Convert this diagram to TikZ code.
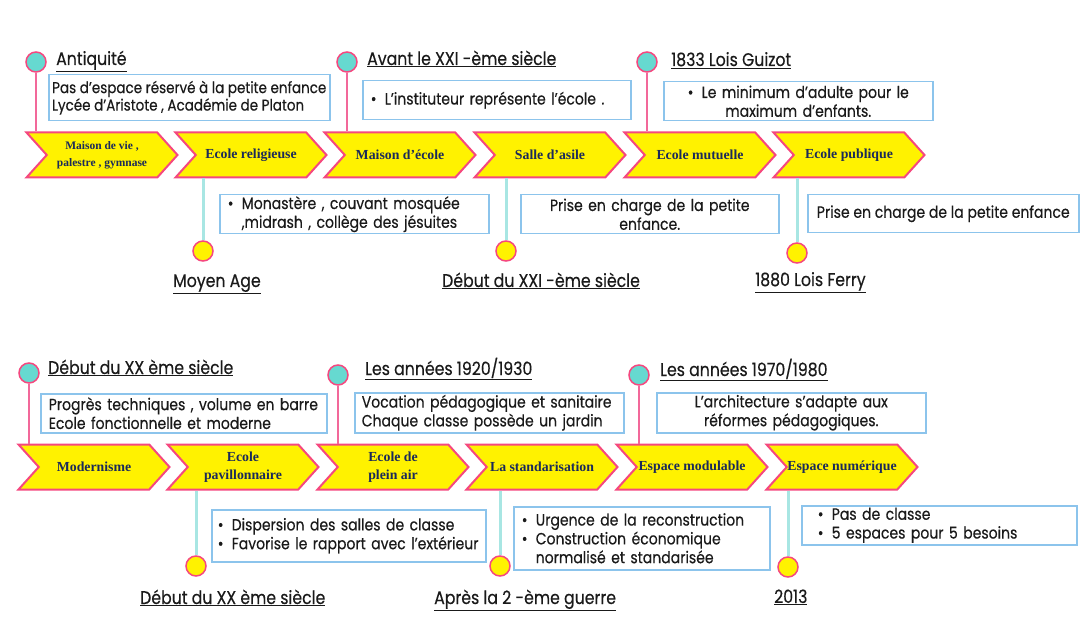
\documentclass[tikz,border=0pt]{standalone}
\usepackage{fontspec}
\setmainfont[FakeStretch=0.86,FakeBold=0.4]{Poppins}
\newfontfamily\chevfont{Liberation Serif}
\usepackage{tikz}
\usepackage{xcolor}
\usetikzlibrary{shapes.symbols}
\usetikzlibrary{positioning}

\definecolor{chevpink}{HTML}{F5487F}
\definecolor{stempink}{HTML}{F2689A}
\definecolor{dotteal}{HTML}{66D9D0}
\definecolor{stemcyan}{HTML}{A8E6E3}
\definecolor{boxblue}{HTML}{8CC4EC}
\definecolor{chevnavy}{HTML}{1B2A5A}
\definecolor{inktext}{HTML}{1A1A1A}

\tikzset{
  chev/.style={signal, signal from=west, signal to=east, signal pointer angle=96,
    draw=chevpink, line width=2pt, fill=yellow, minimum width=151pt, minimum height=45pt,
    inner sep=0pt, text=chevnavy, align=center, font=\chevfont\bfseries\fontsize{13.8}{18}\selectfont},
  chevsmall/.style={chev, font=\chevfont\bfseries\fontsize{11.5}{17}\selectfont},
  tdot/.style={circle, draw=chevpink, fill=dotteal, line width=1.5pt, minimum size=20pt, inner sep=0pt},
  ydot/.style={circle, draw=chevpink, fill=yellow, line width=1.5pt, minimum size=20pt, inner sep=0pt},
  upstem/.style={stempink, line width=2.5pt},
  downstem/.style={stemcyan, line width=3pt},
  infobox/.style={draw=boxblue, line width=1.5pt, anchor=north west, inner xsep=8pt, inner ysep=0pt,
    align=left, text=inktext, font=\fontsize{16.3}{18.8}\selectfont},
  era/.style={anchor=base west, inner sep=0pt, text=inktext, font=\fontsize{18.3}{20}\selectfont},
}
\newcommand\bul{\makebox[14pt][l]{•}}

\begin{document}
\begin{tikzpicture}[x=1pt,y=-1pt]
\useasboundingbox (0,0) rectangle (1084,636);

\node[chevsmall] (t1) at (102,155) {Maison de vie ,\\palestre , gymnase};
\node[chev] (t2) at (251,155) {Ecole religieuse};
\node[chev] (t3) at (400,155) {Maison d’école};
\node[chev] (t4) at (550,155) {Salle d’asile};
\node[chev] (t5) at (700,155) {Ecole mutuelle};
\node[chev] (t6) at (849,155) {Ecole publique};

\node[tdot] (td1) at (36,62) {};
\node[tdot] (td2) at (347,62) {};
\node[tdot] (td3) at (647,62) {};
\draw[upstem] (td1) -- (td1 |- t1.north);
\draw[upstem] (td2) -- (td2 |- t3.north);
\draw[upstem] (td3) -- (td3 |- t5.north);

\node[ydot] (yd1) at (203,251) {};
\node[ydot] (yd2) at (506,251) {};
\node[ydot] (yd3) at (797,253) {};
\draw[downstem] (yd1 |- t2.south) -- (yd1);
\draw[downstem] (yd2 |- t4.south) -- (yd2);
\draw[downstem] (yd3 |- t6.south) -- (yd3);

\node[era] (e1) at (56,65) {\underline{Antiquité}};
\node[era] (e2) at (367,65) {\underline{Avant le XXI -ème siècle}};
\node[era] (e3) at (671,66) {\underline{1833 Lois Guizot}};
\node[era] (e4) at (173,287) {\underline{Moyen Age}};
\node[era] (e5) at (442,287) {\underline{Début du XXI -ème siècle}};
\node[era] (e6) at (755,286) {\underline{1880 Lois Ferry}};

\node[infobox, minimum width=281pt, minimum height=46pt, inner xsep=0pt, font=\fontsize{15.7}{17.5}\selectfont] (tb1) at (48,74)
  {Pas d’espace réservé à la petite enfance\\Lycée d’Aristote , Académie de Platon};
\node[infobox, text width=252pt, minimum height=39pt] (tb2) at (362,80)
  {\bul L’instituteur représente l'école .};
\node[infobox, text width=253pt, minimum height=39pt, align=center] (tb3) at (663,81)
  {\bul Le minimum d’adulte pour le\\maximum d’enfants.};
\node[infobox, text width=253pt, minimum height=39pt] (lb1) at (219,194)
  {\bul Monastère , couvant mosquée\\\hspace*{14pt},midrash , collège des jésuites};
\node[infobox, text width=242pt, minimum height=39pt, align=center] (lb2) at (520,194)
  {Prise en charge de la petite\\enfance.};
\node[infobox, minimum width=271pt, minimum height=38pt, inner xsep=0pt] (lb3) at (807,194)
  {Prise en charge de la petite enfance};

\node[chev] (b1) at (94,467) {Modernisme};
\node[chev] (b2) at (243,467) {Ecole\\pavillonnaire};
\node[chev] (b3) at (393,467) {Ecole de\\plein air};
\node[chev] (b4) at (542,467) {La standarisation};
\node[chev] (b5) at (692,467) {Espace modulable};
\node[chev] (b6) at (842,467) {Espace numérique};

\node[tdot] (td4) at (29,373) {};
\node[tdot] (td5) at (338,375) {};
\node[tdot] (td6) at (639,375) {};
\draw[upstem] (td4) -- (td4 |- b1.north);
\draw[upstem] (td5) -- (td5 |- b3.north);
\draw[upstem] (td6) -- (td6 |- b5.north);

\node[ydot] (yd4) at (196,566) {};
\node[ydot] (yd5) at (500,566) {};
\node[ydot] (yd6) at (788,567) {};
\draw[downstem] (yd4 |- b2.south) -- (yd4);
\draw[downstem] (yd5 |- b4.south) -- (yd5);
\draw[downstem] (yd6 |- b6.south) -- (yd6);

\node[era] (e7) at (48,374) {\underline{Début du XX ème siècle}};
\node[era] (e8) at (365,375) {\underline{Les années 1920/1930}};
\node[era] (e9) at (660,376) {\underline{Les années 1970/1980}};
\node[era] (e10) at (140,604) {\underline{Début du XX ème siècle}};
\node[era] (e11) at (434,604) {\underline{Après la 2 -ème guerre}};
\node[era] (e12) at (774,603) {\underline{2013}};

\node[infobox, text width=270pt, minimum height=39pt] (tb4) at (40,393)
  {Progrès techniques , volume en barre\\Ecole fonctionnelle et moderne};
\node[infobox, text width=255pt, minimum height=40pt, inner xsep=7pt] (tb5) at (354,392)
  {Vocation pédagogique et sanitaire\\Chaque classe possède un jardin};
\node[infobox, text width=253pt, minimum height=40pt, align=center] (tb6) at (656,392)
  {L’architecture s’adapte aux\\réformes pédagogiques.};
\node[infobox, text width=262pt, minimum height=52pt, inner xsep=6pt] (lb4) at (211,509)
  {\bul Dispersion des salles de classe\\\bul Favorise le rapport avec l’extérieur};
\node[infobox, text width=240pt, minimum height=63pt] (lb5) at (513,506)
  {\bul Urgence de la reconstruction\\\bul Construction économique\\\hspace*{14pt}normalisé et standarisée};
\node[infobox, text width=259pt, minimum height=39pt, inner xsep=8pt] (lb6) at (801,505)
  {\hspace*{8pt}\bul Pas de classe\\\hspace*{8pt}\bul 5 espaces pour 5 besoins};
\end{tikzpicture}
\end{document}
